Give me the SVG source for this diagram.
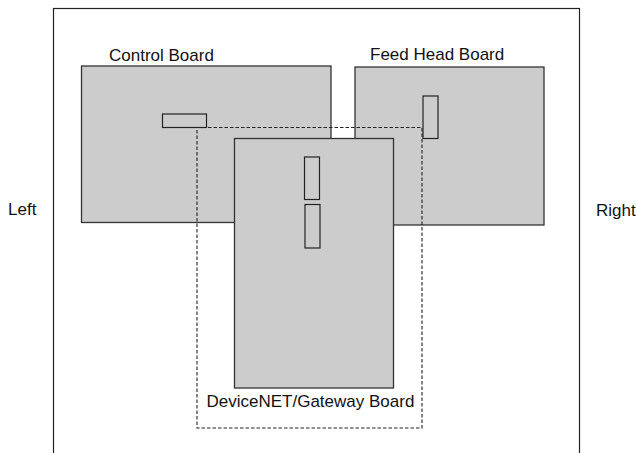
<svg xmlns="http://www.w3.org/2000/svg" width="636" height="453" viewBox="0 0 636 453">
<style>
.board{fill:#cccccc;stroke:#333333;stroke-width:1.3}
.part{fill:#cccccc;stroke:#222222;stroke-width:1.2}
.lbl{font-family:"Liberation Sans",Arial,sans-serif;font-size:17px;fill:#111111}
.frame{fill:none;stroke:#222222;stroke-width:1.2}
.dash{fill:none;stroke:#222222;stroke-width:1.1;stroke-dasharray:3.5,2}
</style>
<rect width="636" height="453" fill="#ffffff"/>
<rect id="frame" class="frame" x="53.5" y="8.5" width="526" height="460"/>
<text class="lbl" x="8" y="215">Left</text>
<text class="lbl" x="596" y="216">Right</text>
<g id="control-board">
<rect class="board" x="81.5" y="66" width="249.5" height="156.5"/>
<rect class="part" x="162.5" y="114" width="44" height="13.5"/>
<text class="lbl" x="109" y="61">Control Board</text>
</g>
<g id="feed-head-board">
<rect class="board" x="355" y="67" width="189" height="158"/>
<rect class="part" x="423" y="96" width="15" height="42.5"/>
<text class="lbl" x="370" y="60">Feed Head Board</text>
</g>
<g id="connectors">
<rect class="dash" x="197" y="127.5" width="225" height="300.5"/>
</g>
<g id="devicenet-board">
<rect class="board" x="234.5" y="138.5" width="159" height="249.5"/>
<rect class="part" x="304.5" y="157" width="15" height="42.5"/>
<rect class="part" x="305" y="204.5" width="15" height="43.5"/>
<text class="lbl" x="206.5" y="407">DeviceNET/Gateway Board</text>
</g>
</svg>
